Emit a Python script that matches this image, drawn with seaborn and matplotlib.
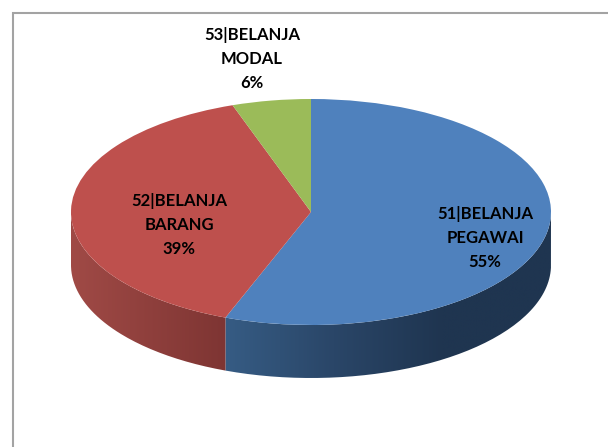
import matplotlib
matplotlib.use('Agg')
import matplotlib.pyplot as plt
from matplotlib.patches import PathPatch
from matplotlib.path import Path
import numpy as np
import seaborn as sns

# values (labels are rounded)
names = ['51|BELANJA\nPEGAWAI\n55%', '52|BELANJA\nBARANG\n39%', '53|BELANJA\nMODAL\n6%']
values = [55.8, 38.9, 5.3]
top_colors = ['#4F81BD', '#BE504D', '#9BBB59']
side_colors = [['#365C84', '#2A4668', '#1F3550', '#1F3550'], ['#A04A46', '#7E3533'], ['#76903F', '#5F7532']]

W, H = 608, 447
CX, CY, RX, RY, DEPTH = 311, 212, 240, 113, 53

sns.set_theme(style='white')
plt.rcParams['font.family'] = ['Lato', 'DejaVu Sans']

fig = plt.figure(figsize=(W / 100, H / 100), dpi=100)
ax = fig.add_axes([0, 0, 1, 1])

wedges, _ = ax.pie(values, colors=top_colors, startangle=90, counterclock=False,
                   radius=1, wedgeprops={'linewidth': 0, 'zorder': 3})
ax.set_aspect('auto')

xlim = (-CX / RX, (W - CX) / RX)
ylim = (-(H - CY) / RY, CY / RY)
d = DEPTH / RY

# side wall of the disc, only the part facing the viewer
for wedge, cols in zip(wedges, side_colors):
    t1, t2 = wedge.theta1, wedge.theta2
    if t1 > 0:
        t1 -= 360
        t2 -= 360
    t1 = max(t1, -180)
    t2 = min(t2, 0)
    if t2 <= t1:
        continue
    t = np.radians(np.linspace(t1, t2, 80))
    xs = np.cos(t)
    ys = np.sin(t)
    verts = np.vstack([np.column_stack([xs, ys]),
                       np.column_stack([xs[::-1], ys[::-1] - d]),
                       [[xs[0], ys[0]]]])
    clip = PathPatch(Path(verts), transform=ax.transData, facecolor='none', edgecolor='none')
    ax.add_patch(clip)
    cmap = sns.blend_palette(cols, as_cmap=True)
    im = ax.imshow(np.linspace(0, 1, 256)[None, :], cmap=cmap, aspect='auto', zorder=2,
                   extent=(xs.min(), xs.max(), -1 - d, 0.1))
    im.set_clip_path(clip)

ax.set_xlim(xlim)
ax.set_ylim(ylim)
ax.set_xticks([])
ax.set_yticks([])
ax.set_axis_off()

# chart frame: only the left and top edges fall inside the crop
ax.plot([12.5 / W, 12.5 / W, 1], [0, 1 - 12.5 / H, 1 - 12.5 / H], transform=ax.transAxes,
        color='#A3A3A3', linewidth=1.5, solid_joinstyle='miter', zorder=1)

label_px = [(485, 238), (179, 225), (252, 59)]
for name, (px, py) in zip(names, label_px):
    ax.text(px / W, 1 - py / H, name, transform=ax.transAxes, ha='center', va='center',
            fontsize=12, fontweight='bold', color='black', linespacing=1.62, zorder=5)

fig.savefig('out.png', dpi=100, facecolor='white')
